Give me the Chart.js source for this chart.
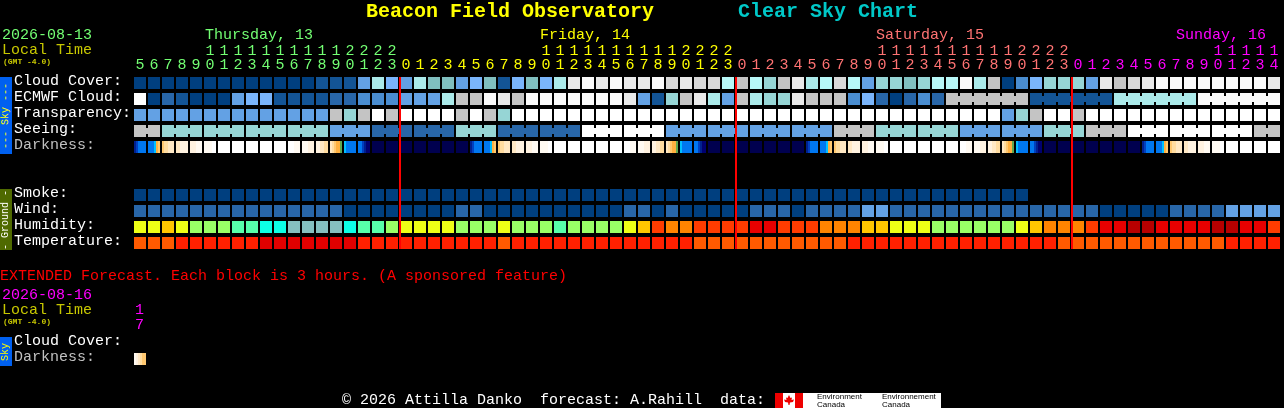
<!DOCTYPE html>
<html>
<head>
<meta charset="utf-8">
<title>Beacon Field Observatory Clear Sky Chart</title>
<script src="https://cdn.jsdelivr.net/npm/chart.js@4"></script>
<style>
    html, body { margin: 0; background: #000; overflow: hidden; }
    #wrap { position: relative; width: 1284px; height: 408px; font-family: "Liberation Mono", monospace; font-size: 15px; }
    canvas { position: absolute; left: 0; top: 0; }
    .t { position: absolute; white-space: pre; line-height: 16px; }
    .small { font-size: 8px; font-weight: bold; line-height: 8px; color: #c8c800; }
    .title { font-size: 20px; font-weight: bold; line-height: 22px; }
    .bar { position: absolute; left: 0; width: 12px; }
    .bar span { position: absolute; left: 6px; top: 50%; transform: translate(-50%, -50%) rotate(-90deg); font-size: 10px; line-height: 10px; white-space: pre; }
    #logo { position: absolute; left: 775px; top: 393px; width: 166px; height: 15px; background: #fff; overflow: hidden; }
    #logo .red { position: absolute; top: 0; width: 8px; height: 15px; background: #ee0000; }
    #logo .co { position: absolute; color: #000; font-size: 8px; line-height: 8px; font-family: "Liberation Sans", sans-serif; }
</style>
</head>
<body>
<div id="wrap">
    <canvas id="chart" width="1284" height="408"></canvas>

    <div class="t title" style="left:366px;top:1px;color:#ffff00">Beacon Field Observatory</div>
    <div class="t title" style="left:738px;top:1px;color:#00c8c8">Clear Sky Chart</div>

    <div class="t" style="left:2px;top:28px;color:#73ff73">2026-08-13</div>
    <div class="t" style="left:2px;top:43px;color:#c8c800">Local Time</div>
    <div class="t small" style="left:3px;top:58px">(GMT -4.0)</div>
    <div class="t" style="left:205px;top:28px;color:#73ff73">Thursday, 13</div>
    <div class="t" style="left:540px;top:28px;color:#ffff00">Friday, 14</div>
    <div class="t" style="left:876px;top:28px;color:#ff7373">Saturday, 15</div>
    <div class="t" style="left:1176px;top:28px;color:#ff00ff">Sunday, 16</div>

    <div class="bar" style="top:77px;height:77px;background:#0060f0;color:#ffff00"><span>--- Sky ---</span></div>
    <div class="bar" style="top:189px;height:61px;background:#4f6a00;color:#ffffff"><span>- Ground -</span></div>

    <div class="t" style="left:0;top:269px;color:#ff0000">EXTENDED Forecast. Each block is 3 hours. (A sponsored feature)</div>
    <div class="t" style="left:2px;top:288px;color:#ff00ff">2026-08-16</div>
    <div class="t" style="left:2px;top:303px;color:#c8c800">Local Time</div>
    <div class="t small" style="left:3px;top:318px">(GMT -4.0)</div>
    <div class="t" style="left:135px;top:303px;color:#ff00ff">1</div>
    <div class="t" style="left:135px;top:318px;color:#ff00ff">7</div>
    <div class="bar" style="top:337px;height:29px;background:#0060f0;color:#ffff00"><span>Sky</span></div>

    <div class="t" style="left:342px;top:393px;color:#ffffff">© 2026 Attilla Danko  forecast: A.Rahill  data:</div>
    <div id="logo">
        <div class="red" style="left:0"></div>
        <div class="red" style="left:20px"></div>
        <svg style="position:absolute;left:8px;top:2px" width="12" height="11" viewBox="0 0 12 11">
            <polygon fill="#ee0000" points="6,0 7.5,3 9,2.5 8.5,5 11,4.5 10,7 7,7.5 6.5,10 5.5,10 5,7.5 2,7 1,4.5 3.5,5 3,2.5 4.5,3"/>
        </svg>
        <div class="co" style="left:42px;top:0">Environment<br>Canada</div>
        <div class="co" style="left:107px;top:0">Environnement<br>Canada</div>
    </div>
</div>

<script>
// hour of every forecast column, the first 19 belong to Thursday
const hours = [5, 6, 7, 8, 9, 10, 11, 12, 13, 14, 15, 16, 17, 18, 19, 20, 21, 22, 23,
    0, 1, 2, 3, 4, 5, 6, 7, 8, 9, 10, 11, 12, 13, 14, 15, 16, 17, 18, 19, 20, 21, 22, 23,
    0, 1, 2, 3, 4, 5, 6, 7, 8, 9, 10, 11, 12, 13, 14, 15, 16, 17, 18, 19, 20, 21, 22, 23,
    0, 1, 2, 3, 4, 5, 6, 7, 8, 9, 10, 11, 12, 13, 14];

const dayStartColumns = [0, 19, 43, 67];
const dayColors = ['#73ff73', '#ffff00', '#ff7373', '#ff00ff'];
const midnightColumns = [19, 43, 67];

const rowLabels = ['Cloud Cover:', 'ECMWF Cloud:', 'Transparency:', 'Seeing:', 'Darkness:',
    'Smoke:', 'Wind:', 'Humidity:', 'Temperature:', 'Cloud Cover:', 'Darkness:'];
const rowPositions = [0, 1, 2, 3, 4, 7, 8, 9, 10, 16.25, 17.25];

// levels, looked up in skyPalette
const cloudCover = [0, 0, 0, 0, 0, 0, 0, 0, 0, 0, 0, 0, 0, 1, 1, 1, 4, 8, 5, 4,
    8, 6, 6, 4, 5, 6, 1, 5, 6, 5, 8, 12, 13, 12, 13, 12, 12, 13, 11, 12,
    11, 11, 9, 10, 9, 7, 10, 12, 8, 9, 11, 9, 4, 7, 7, 6, 7, 9, 9, 13,
    8, 10, 0, 3, 5, 7, 7, 7, 4, 12, 10, 11, 12, 13, 13, 13, 13, 13, 13, 13, 13, 12];
const ecmwfCloud = [14, 0, 2, 1, 0, 0, 0, 4, 5, 5, 1, 1, 1, 1, 2, 2, 3, 3, 3, 4,
    4, 4, 8, 10, 10, 13, 12, 10, 13, 13, 13, 13, 13, 13, 13, 12, 4, 1, 7, 10,
    12, 8, 4, 10, 8, 7, 7, 12, 10, 10, 10, 3, 5, 2, 0, 2, 3, 2, 10, 10,
    10, 10, 10, 10, 1, 1, 1, 1, 1, 1, 8, 8, 8, 8, 8, 8, 13, 13, 13, 13, 13, 13];
const transparency = [4, 4, 4, 4, 4, 4, 4, 4, 4, 4, 4, 4, 4, 4, 10, 7, 10, 14, 10, 14,
    14, 14, 14, 10, 14, 10, 7, 14, 14, 14, 14, 14, 14, 14, 14, 14, 14, 14, 14, 14,
    14, 14, 14, 14, 14, 14, 14, 14, 14, 14, 14, 14, 14, 14, 14, 14, 14, 14, 14, 14,
    14, 14, 4, 7, 10, 14, 14, 10, 14, 14, 14, 14, 14, 14, 14, 14, 14, 14, 14, 14, 14, 14];
const seeing = [10, 10, 7, 7, 7, 7, 7, 7, 7, 7, 7, 7, 7, 7, 4, 4, 4, 2, 2, 2,
    2, 2, 2, 7, 7, 7, 2, 2, 2, 2, 2, 2, 14, 14, 14, 14, 14, 14, 4, 4,
    4, 4, 4, 4, 4, 4, 4, 4, 4, 4, 10, 10, 10, 7, 7, 7, 7, 7, 7, 4,
    4, 4, 4, 4, 4, 7, 7, 7, 10, 10, 10, 14, 14, 14, 14, 14, 14, 14, 14, 14, 10, 10];
const smoke = [0, 0, 0, 0, 0, 0, 0, 0, 0, 0, 0, 0, 0, 0, 0, 0, 0, 0, 0, 0,
    0, 0, 0, 0, 0, 0, 0, 0, 0, 0, 0, 0, 0, 0, 0, 0, 0, 0, 0, 0,
    0, 0, 0, 0, 0, 0, 0, 0, 0, 0, 0, 0, 0, 0, 0, 0, 0, 0, 0, 0,
    0, 0, 0, 0];
const wind = [2, 2, 2, 2, 2, 2, 2, 2, 2, 2, 2, 2, 2, 2, 2, 0, 0, 0, 0, 0,
    0, 0, 0, 2, 2, 0, 0, 0, 0, 0, 0, 0, 0, 0, 0, 2, 2, 0, 2, 0,
    0, 0, 0, 0, 2, 2, 2, 0, 2, 2, 2, 2, 4, 4, 2, 2, 2, 2, 2, 2,
    2, 2, 2, 2, 2, 2, 2, 2, 2, 0, 0, 0, 0, 0, 2, 2, 2, 2, 4, 4, 4, 4];

// levels, looked up in humidityPalette
const humidity = [5, 5, 4, 5, 6, 6, 6, 7, 7, 8, 8, 9, 9, 9, 9, 8, 7, 7, 6, 5,
    5, 5, 5, 6, 6, 6, 5, 6, 6, 6, 7, 6, 6, 6, 6, 5, 4, 2, 3, 3,
    2, 2, 2, 2, 1, 1, 2, 2, 2, 3, 3, 3, 4, 4, 5, 5, 5, 6, 6, 6,
    6, 6, 6, 5, 4, 3, 3, 3, 2, 1, 1, 0, 0, 1, 1, 1, 1, 0, 0, 1, 1, 2];

// levels, looked up in temperaturePalette
const temperature = [2, 2, 2, 1, 1, 1, 1, 1, 1, 0, 0, 0, 0, 0, 0, 0, 1, 1, 1, 1,
    1, 1, 1, 1, 1, 1, 2, 1, 1, 1, 1, 1, 1, 1, 1, 1, 1, 1, 1, 1,
    2, 2, 2, 2, 2, 2, 2, 2, 2, 2, 2, 1, 1, 1, 1, 1, 1, 1, 1, 1,
    1, 1, 1, 1, 1, 1, 2, 2, 2, 2, 2, 2, 2, 2, 2, 2, 2, 2, 1, 1, 1, 1];

// darkness of one block read left to right, levels looked up in darknessPalette
const night = [0, 0, 0, 0, 0, 0];
const dawnA = [2, 3, 4, 4, 4, 4];
const dawnB = [4, 4, 4, 5, 6, 7];
const dawnC = [7, 8, 8, 9, 9, 9];
const dawnD = [9, 9, 10, 10, 10, 10];
const dawnE = [10, 10, 10, 11, 11, 11];
const dawnF = [11, 11, 11, 11, 12, 12];
const full = [12, 12, 12, 12, 12, 12];
const duskA = [12, 12, 12, 11, 11, 11];
const duskB = [11, 11, 11, 10, 10, 10];
const duskC = [10, 10, 9, 9, 8, 8];
const duskD = [9, 8, 7, 6, 6, 13];
const duskE = [5, 4, 4, 4, 4, 4];
const duskF = [4, 4, 3, 2, 1, 1];
const darkness = [dawnA, dawnB, dawnC, dawnD, dawnE, dawnF, full, full, full, full, full, duskA, duskB, duskC, duskD, duskE, duskF, night, night,
    night, night, night, night, night, dawnA, dawnB, dawnC, dawnD, dawnE, dawnF, full, full, full, full, full, duskA, duskB, duskC, duskD, duskE, duskF, night, night,
    night, night, night, night, night, dawnA, dawnB, dawnC, dawnD, dawnE, dawnF, full, full, full, full, full, duskA, duskB, duskC, duskD, duskE, duskF, night, night,
    night, night, night, night, night, dawnA, dawnB, dawnC, dawnD, dawnE, dawnF, full, full, full, full];
const extendedDarkness = [[11, 10, 9, 8, 7, 7]];

// forecasts given per several hours, each entry is the first column of a joined run
const seeingRuns = [0, 2, 5, 8, 11, 14, 17, 20, 23, 26, 29, 32, 35, 38, 41, 44, 47, 50, 53, 56, 59, 62, 65, 68, 71, 74, 77, 80, 82];
const ecmwfRuns = [58, 64, 70, 76, 82];

const skyPalette = ['#003f7f', '#135495', '#2866a8', '#4a8dd0', '#63a1e4', '#7ab5fb', '#80bfbf', '#96d5d5',
    '#abeaea', '#b7f7f7', '#c4c4c4', '#d8d8d8', '#e9e9e9', '#fafafa', '#ffffff'];
const humidityPalette = ['#b80000', '#e80000', '#ff3c00', '#ff8400', '#ffc600', '#eeff16', '#99ff66', '#57ffaa', '#0dffe6', '#85bfbf'];
const temperaturePalette = ['#e00000', '#ff2000', '#ff5a00'];
const darknessPalette = ['#00004f', '#000070', '#00208f', '#0040c0', '#0077f0', '#00c0ff', '#ffb040', '#ffc870',
    '#ffdca0', '#ffe8c4', '#fff2e0', '#fffaf2', '#ffffff', '#60a850'];

const cellHalfHeight = 0.375;


function columnColor(column) {
    let day = 0;
    for (let i = 0; i < dayStartColumns.length; i++) {
        if (column >= dayStartColumns[i]) day = i;
    }
    return dayColors[day];
}


function hourLabel(hour) {
    const text = String(hour);
    return text.length > 1 ? [text[0], text[1]] : text;
}


function makeRow(row, values, color) {
    return {
        data: hours.map((_, i) => values[i] === undefined ? null : [row - cellHalfHeight, row + cellHalfHeight]),
        backgroundColor: color,
        borderWidth: 0
    };
}


function levelRow(row, values, palette) {
    return makeRow(row, values, (ctx) => palette[values[ctx.dataIndex]]);
}


// a darkness block is a strip of hard colour steps, not one flat colour
function darknessRow(row, values) {
    return makeRow(row, values, (ctx) => {
        const steps = values[ctx.dataIndex];
        const x = ctx.chart.scales.x.getPixelForValue(ctx.dataIndex);
        if (!steps || !isFinite(x)) return '#000';
        const gradient = ctx.chart.ctx.createLinearGradient(x - 6, 0, x + 6, 0);
        steps.forEach((level, i) => {
            gradient.addColorStop(i / steps.length, darknessPalette[level]);
            gradient.addColorStop((i + 1) / steps.length, darknessPalette[level]);
        });
        return gradient;
    });
}


function drawBridges(chart, row, values, runs) {
    const { ctx, scales: { x, y } } = chart;
    const top = y.getPixelForValue(row - 0.1875);
    const bottom = y.getPixelForValue(row + 0.1875);
    for (let r = 0; r < runs.length - 1; r++) {
        for (let i = runs[r]; i < runs[r + 1] - 1; i++) {
            const left = x.getPixelForValue(i) + 6;
            const right = x.getPixelForValue(i + 1) - 6;
            ctx.fillStyle = skyPalette[values[i]];
            ctx.fillRect(left, top, right - left, bottom - top);
        }
    }
}


const overlayPlugin = {
    id: 'overlay',
    afterDatasetsDraw(chart) {
        const { ctx, scales: { x, y } } = chart;
        drawBridges(chart, 1, ecmwfCloud, ecmwfRuns);
        drawBridges(chart, 3, seeing, seeingRuns);
        ctx.fillStyle = '#ff0000';
        midnightColumns.forEach((column) => {
            const px = x.getPixelForValue(column) - 7;
            const top = y.getPixelForValue(-cellHalfHeight);
            const bottom = y.getPixelForValue(10 + cellHalfHeight);
            ctx.fillRect(px, top, 2, bottom - top);
        });
    }
};


new Chart(document.getElementById('chart').getContext('2d'), {
    type: 'bar',
    data: {
        labels: hours.map(hourLabel),
        datasets: [
            levelRow(0, cloudCover, skyPalette),
            levelRow(1, ecmwfCloud, skyPalette),
            levelRow(2, transparency, skyPalette),
            levelRow(3, seeing, skyPalette),
            darknessRow(4, darkness),
            levelRow(7, smoke, skyPalette),
            levelRow(8, wind, skyPalette),
            levelRow(9, humidity, humidityPalette),
            levelRow(10, temperature, temperaturePalette),
            darknessRow(17.25, extendedDarkness)
        ]
    },
    options: {
        responsive: false,
        animation: false,
        devicePixelRatio: 1,
        grouped: false,
        barPercentage: 12 / 14,
        categoryPercentage: 1,
        layout: { padding: { left: 14, right: 3, top: 0, bottom: 39 } },
        plugins: {
            legend: { display: false },
            tooltip: { enabled: false }
        },
        scales: {
            x: {
                position: 'top',
                grid: { display: false },
                border: { display: false },
                afterFit(scale) { scale.height = 73; },
                ticks: {
                    autoSkip: false,
                    maxRotation: 0,
                    minRotation: 0,
                    padding: -7,
                    font: { family: '"Liberation Mono", monospace', size: 15, lineHeight: '14px' },
                    color: (ctx) => columnColor(ctx.index)
                }
            },
            y: {
                reverse: true,
                min: -0.625,
                max: 17.875,
                grid: { display: false },
                border: { display: false },
                afterFit(scale) { scale.width = 119; },
                afterBuildTicks(scale) {
                    scale.ticks = rowPositions.map((value) => ({ value: value }));
                },
                ticks: {
                    autoSkip: false,
                    crossAlign: 'far',
                    labelOffset: -2,
                    font: { family: '"Liberation Mono", monospace', size: 15 },
                    color: (ctx) => rowLabels[ctx.index] === 'Darkness:' ? '#c0c0c0' : '#ffffff',
                    callback: (value, index) => rowLabels[index]
                }
            }
        }
    },
    plugins: [overlayPlugin]
});
</script>
</body>
</html>
